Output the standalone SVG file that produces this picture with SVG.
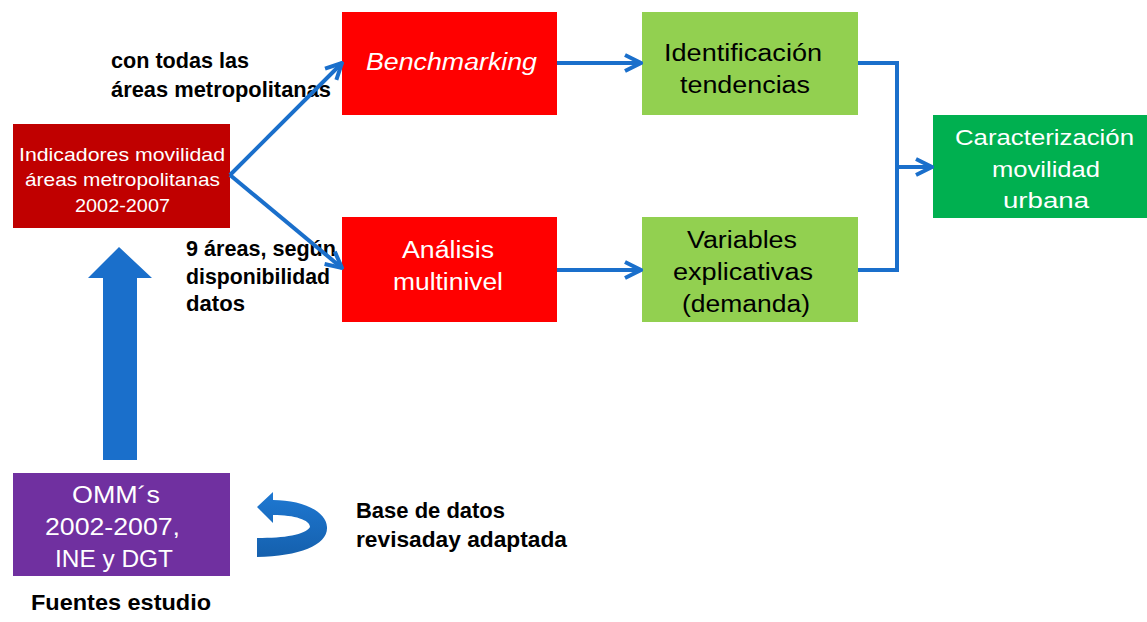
<svg xmlns="http://www.w3.org/2000/svg" width="1147" height="622" viewBox="0 0 1147 622">
<defs>
<style>
.t{font-family:"Liberation Sans",Arial,sans-serif;text-anchor:start}
.w{fill:#fff}
.k{fill:#000}
.lbl{font-family:"Liberation Sans",Arial,sans-serif;font-weight:bold;font-size:22px;fill:#000}
.c{fill:none;stroke:#1A6FCB;stroke-width:4}
</style>
<marker id="ah" viewBox="0 0 10 10" refX="9" refY="5" markerWidth="5" markerHeight="5" orient="auto" markerUnits="strokeWidth">
<path d="M1,1 L9,5 L1,9" fill="none" stroke="#1A6FCB" stroke-width="2"/>
</marker>
<linearGradient id="rib" x1="0" y1="0" x2="0" y2="1">
<stop offset="0" stop-color="#1E78D2"/>
<stop offset="1" stop-color="#1560AD"/>
</linearGradient>
</defs>
<rect width="1147" height="622" fill="#fff"/>
<g id="indicadores">
<rect x="13" y="124" width="217" height="104" fill="#C00000"/>
<text class="t w" font-size="19" lengthAdjust="spacingAndGlyphs"><tspan x="19" y="161" textLength="206" lengthAdjust="spacingAndGlyphs">Indicadores movilidad</tspan><tspan x="25" y="186" textLength="195" lengthAdjust="spacingAndGlyphs">áreas metropolitanas</tspan><tspan x="75" y="212" textLength="95" lengthAdjust="spacingAndGlyphs">2002-2007</tspan></text>
</g>
<g id="benchmarking">
<rect x="342" y="12" width="215" height="103" fill="#FF0000"/>
<text class="t w" font-size="23" font-style="italic" x="366" y="70" textLength="171" lengthAdjust="spacingAndGlyphs">Benchmarking</text>
</g>
<g id="analisis">
<rect x="342" y="217" width="215" height="105" fill="#FF0000"/>
<text class="t w" font-size="23"><tspan x="402" y="258" textLength="92" lengthAdjust="spacingAndGlyphs">Análisis</tspan><tspan x="393" y="290" textLength="110" lengthAdjust="spacingAndGlyphs">multinivel</tspan></text>
</g>
<g id="identificacion">
<rect x="642" y="12" width="216" height="103" fill="#92D050"/>
<text class="t k" font-size="23"><tspan x="664" y="61" textLength="158" lengthAdjust="spacingAndGlyphs">Identificación</tspan><tspan x="680" y="93" textLength="130" lengthAdjust="spacingAndGlyphs">tendencias</tspan></text>
</g>
<g id="variables">
<rect x="642" y="217" width="216" height="105" fill="#92D050"/>
<text class="t k" font-size="23"><tspan x="687" y="248" textLength="110" lengthAdjust="spacingAndGlyphs">Variables</tspan><tspan x="673" y="280" textLength="140" lengthAdjust="spacingAndGlyphs">explicativas</tspan><tspan x="682" y="312" textLength="128" lengthAdjust="spacingAndGlyphs">(demanda)</tspan></text>
</g>
<g id="caracterizacion">
<rect x="933" y="115" width="214" height="103" fill="#00B050"/>
<text class="t w" font-size="22"><tspan x="955" y="145" textLength="179" lengthAdjust="spacingAndGlyphs">Caracterización</tspan><tspan x="992" y="177" textLength="108" lengthAdjust="spacingAndGlyphs">movilidad</tspan><tspan x="1003" y="208" textLength="86" lengthAdjust="spacingAndGlyphs">urbana</tspan></text>
</g>
<g id="omm">
<rect x="13" y="473" width="217" height="103" fill="#7030A0"/>
<text class="t w" font-size="23"><tspan x="72" y="503" textLength="88" lengthAdjust="spacingAndGlyphs">OMM´s</tspan><tspan x="45" y="535" textLength="135" lengthAdjust="spacingAndGlyphs">2002-2007,</tspan><tspan x="55" y="567" textLength="118" lengthAdjust="spacingAndGlyphs">INE y DGT</tspan></text>
</g>
<g id="labels">
<text class="lbl"><tspan x="111" y="68" textLength="138" lengthAdjust="spacingAndGlyphs">con todas las</tspan><tspan x="111" y="97" textLength="220" lengthAdjust="spacingAndGlyphs">áreas metropolitanas</tspan></text>
<text class="lbl"><tspan x="186" y="256" textLength="150" lengthAdjust="spacingAndGlyphs">9 áreas, según</tspan><tspan x="186" y="284" textLength="144" lengthAdjust="spacingAndGlyphs">disponibilidad</tspan><tspan x="186" y="311" textLength="59" lengthAdjust="spacingAndGlyphs">datos</tspan></text>
<text class="lbl"><tspan x="356" y="518" textLength="149" lengthAdjust="spacingAndGlyphs">Base de datos</tspan><tspan x="356" y="547" textLength="211" lengthAdjust="spacingAndGlyphs">revisaday adaptada</tspan></text>
<text class="lbl" x="31" y="610" textLength="180" lengthAdjust="spacingAndGlyphs">Fuentes estudio</text>
</g>
<g id="connectors">
<path class="c" d="M230,175 L342,63" marker-end="url(#ah)"/>
<path class="c" d="M230,175 L342,268" marker-end="url(#ah)"/>
<path class="c" d="M557,63 L641,63" marker-end="url(#ah)"/>
<path class="c" d="M557,270 L641,270" marker-end="url(#ah)"/>
<path class="c" d="M858,63 L897,63 L897,270 L858,270"/>
<path class="c" d="M897,167 L932,167" marker-end="url(#ah)"/>
<path d="M103,460 L103,278 L88,278 L119,247 L152,278 L137,278 L137,460 Z" fill="#1A6FCB"/>
<path d="M257,557 C300,556 328,545 327,527 C326,510 300,500 273,500 L273,492 L257,507 L273,523 L273,515 C295,515 310,520 310,527 C305,535 285,538 257,538 Z" fill="url(#rib)"/>
</g>
</svg>
